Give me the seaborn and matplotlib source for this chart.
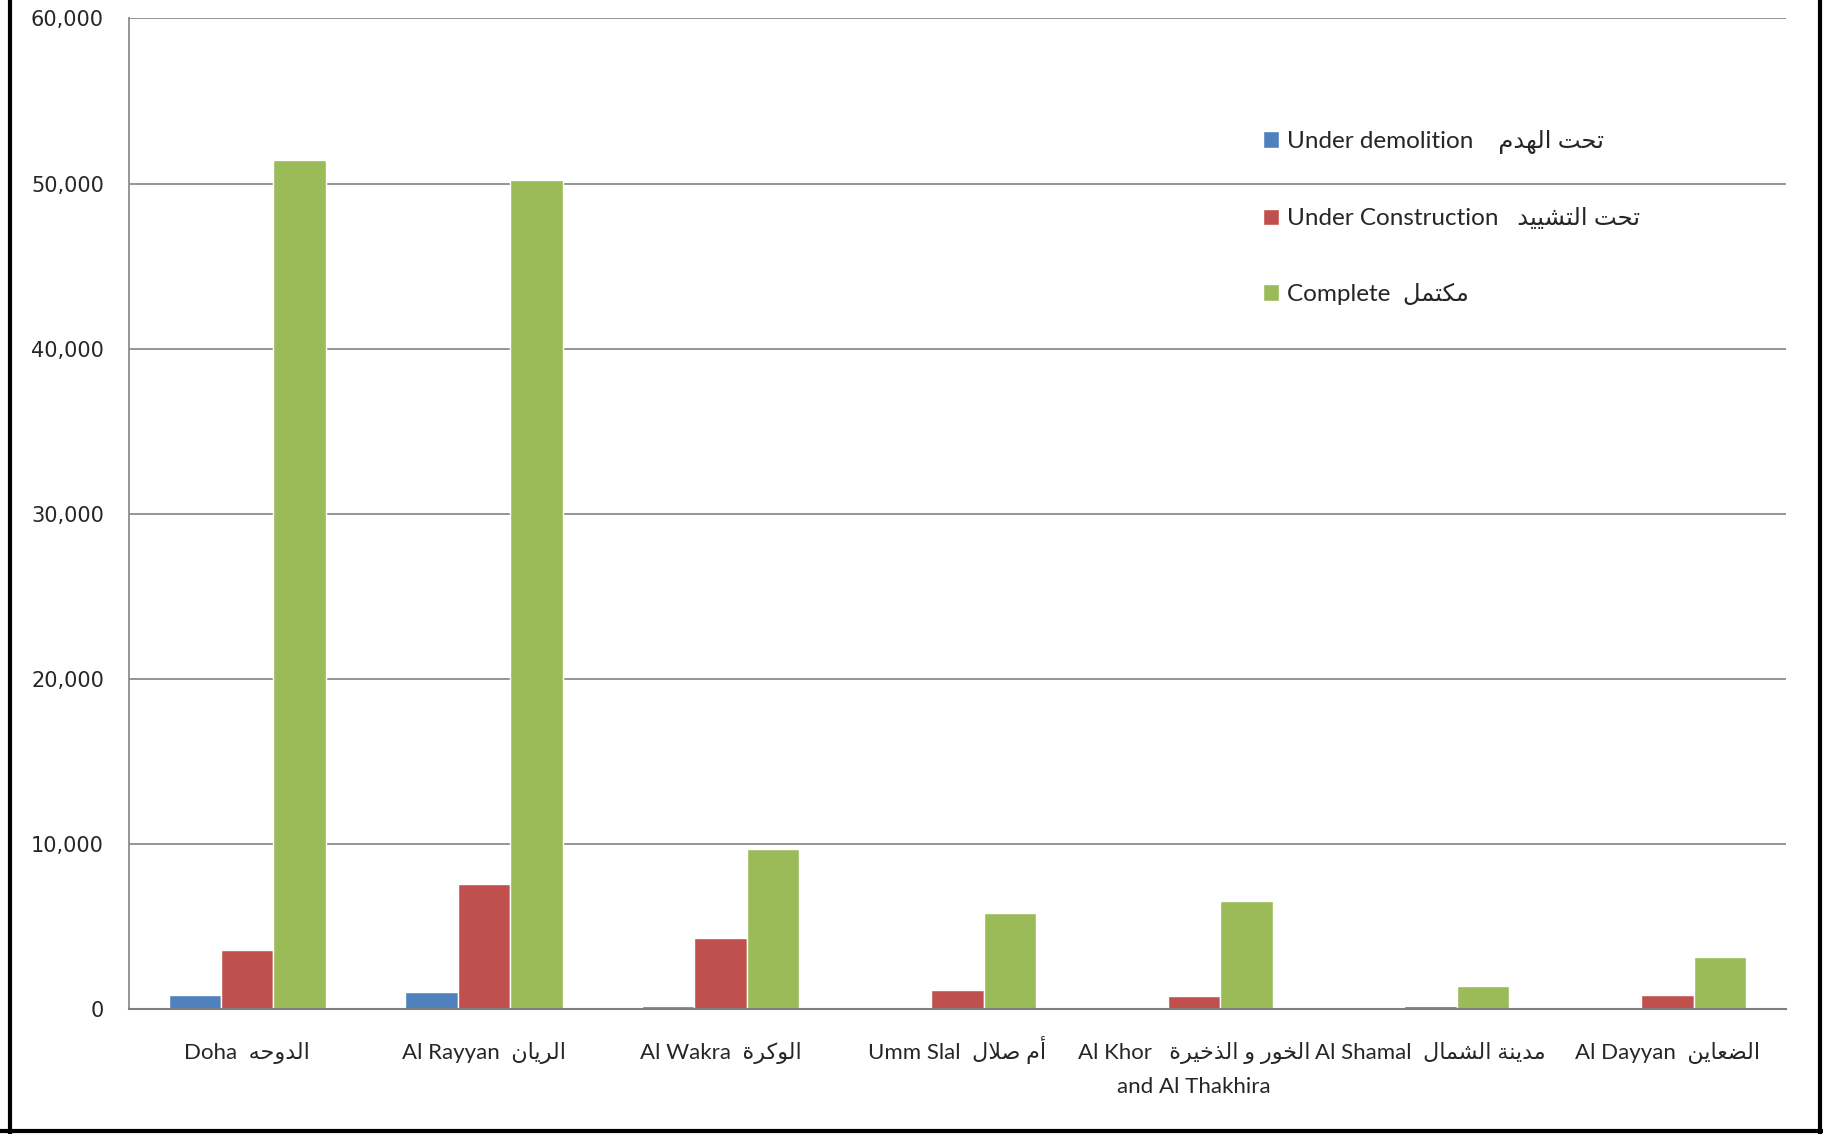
import pandas as pd
import matplotlib
matplotlib.use("Agg")
import matplotlib.pyplot as plt
import matplotlib.ticker as mticker
import matplotlib.transforms as mtransforms
from matplotlib.lines import Line2D
import seaborn as sns

# regions (English, Arabic) and building counts per status
regions_en = ["Doha", "Al Rayyan", "Al Wakra", "Umm Slal", "Al Khor", "Al Shamal", "Al Dayyan"]
regions_ar = ["الدوحه", "الريان", "الوكرة", "أم صلال", "الخور و الذخيرة", "مدينة الشمال", "الضعاين"]
status_en = ["Under demolition", "Under Construction", "Complete"]
status_ar = ["تحت الهدم", "تحت التشييد", "مكتمل"]
under_demolition = [830, 1000, 150, 0, 80, 30, 0]
under_construction = [3560, 7550, 4300, 1130, 790, 180, 830]
complete = [51450, 50200, 9700, 5800, 6500, 1350, 3150]
colors = ["#4F81BD", "#C0504D", "#9BBB59"]

# minimal Arabic shaping (matplotlib has no bidi / joining support)
DUAL = {"ت": 0xFE95, "ح": 0xFEA1, "خ": 0xFEA5, "ش": 0xFEB5, "ص": 0xFEB9, "ض": 0xFEBD,
        "ع": 0xFEC9, "ك": 0xFED9, "ل": 0xFEDD, "م": 0xFEE1, "ن": 0xFEE5, "ه": 0xFEE9, "ي": 0xFEF1}
RIGHT = {"ا": 0xFE8D, "أ": 0xFE83, "ة": 0xFE93, "د": 0xFEA9, "ذ": 0xFEAB, "ر": 0xFEAD, "و": 0xFEED}


def shape(text):
    out = []
    i = 0
    while i < len(text):
        c = text[i]
        joins_prev = i > 0 and text[i - 1] in DUAL
        nxt = text[i + 1] if i + 1 < len(text) else ""
        if c == "ل" and nxt in ("ا", "أ"):
            base = 0xFEFB if nxt == "ا" else 0xFEF7
            out.append(chr(base + (1 if joins_prev else 0)))
            i += 2
            continue
        if c in DUAL:
            joins_next = nxt in DUAL or nxt in RIGHT
            form = {(False, False): 0, (True, False): 1, (False, True): 2, (True, True): 3}[(joins_prev, joins_next)]
            out.append(chr(DUAL[c] + form))
        elif c in RIGHT:
            out.append(chr(RIGHT[c] + (1 if joins_prev else 0)))
        else:
            out.append(c)
        i += 1
    return "".join(reversed(out))


df = pd.DataFrame({
    "region": regions_en * 3,
    "status": [s for s in status_en for _ in regions_en],
    "count": under_demolition + under_construction + complete,
})

sns.set_style("white")
plt.rcParams["font.family"] = ["Lato", "DejaVu Sans"]

fig = plt.figure(figsize=(18.24, 11.34), dpi=100)
ax = fig.add_axes([0.0707, 0.1106, 0.9083, 0.8731])

sns.barplot(data=df, x="region", y="count", hue="status", hue_order=status_en,
            order=regions_en, palette=colors, saturation=1, width=0.664, ax=ax)

ax.set_xlim(-0.5, len(regions_en) - 0.5)
ax.set_ylim(0, 60000)
ax.set_yticks(range(0, 60001, 10000))
ax.yaxis.set_major_formatter(mticker.FuncFormatter(lambda v, p: f"{int(v):,}"))
ax.set_xlabel("")
ax.set_ylabel("")

ax.grid(axis="y", color="#8C8C8C", linewidth=1.3)
ax.set_axisbelow(True)
for side in ["top", "right"]:
    ax.spines[side].set_visible(False)
ax.spines["left"].set_color("#8C8C8C")
ax.spines["left"].set_linewidth(1.3)
ax.spines["bottom"].set_color("#7F7F7F")
ax.spines["bottom"].set_linewidth(1.5)

xlabels = [f"{en}   {shape(ar)}" if en == "Al Khor" else f"{en}  {shape(ar)}"
           for en, ar in zip(regions_en, regions_ar)]
ax.set_xticks(range(len(regions_en)))
ax.set_xticklabels(xlabels, fontsize=16, va="baseline", ha="center")
ax.tick_params(axis="x", length=0, pad=36)
ax.tick_params(axis="y", length=0, pad=18)
for t in ax.get_yticklabels():
    t.set_fontfamily("DejaVu Sans")
    t.set_fontsize(15)

# second line of the Al Khor label
khor = regions_en.index("Al Khor")
trans = ax.get_xaxis_transform() + mtransforms.ScaledTranslation(0, -60.5 / 72, fig.dpi_scale_trans)
ax.text(khor, 0, "and Al Thakhira", transform=trans, ha="center", va="baseline", fontsize=16)

handles, _ = ax.get_legend_handles_labels()
gaps = ["    ", "   ", "  "]
leg_labels = [f"{en}{g}{shape(ar)}" for en, ar, g in zip(status_en, status_ar, gaps)]
ax.legend(handles, leg_labels, loc="upper left", bbox_to_anchor=(1263 / 1824, 1 - 130 / 1134),
          bbox_transform=fig.transFigure, frameon=False, fontsize=17.5, handlelength=0.65,
          handleheight=0.65, handletextpad=0.35, labelspacing=2.2, borderpad=0, borderaxespad=0)

# black frame around the chart (top edge falls outside the picture)
for xs, ys in [([10, 10], [0, 1134]), ([1820, 1820], [0, 1134]), ([0, 1824], [1131, 1131])]:
    fig.add_artist(Line2D([x / 1824 for x in xs], [1 - y / 1134 for y in ys],
                          transform=fig.transFigure, color="black", linewidth=3))

fig.savefig("out.png", dpi=100)
